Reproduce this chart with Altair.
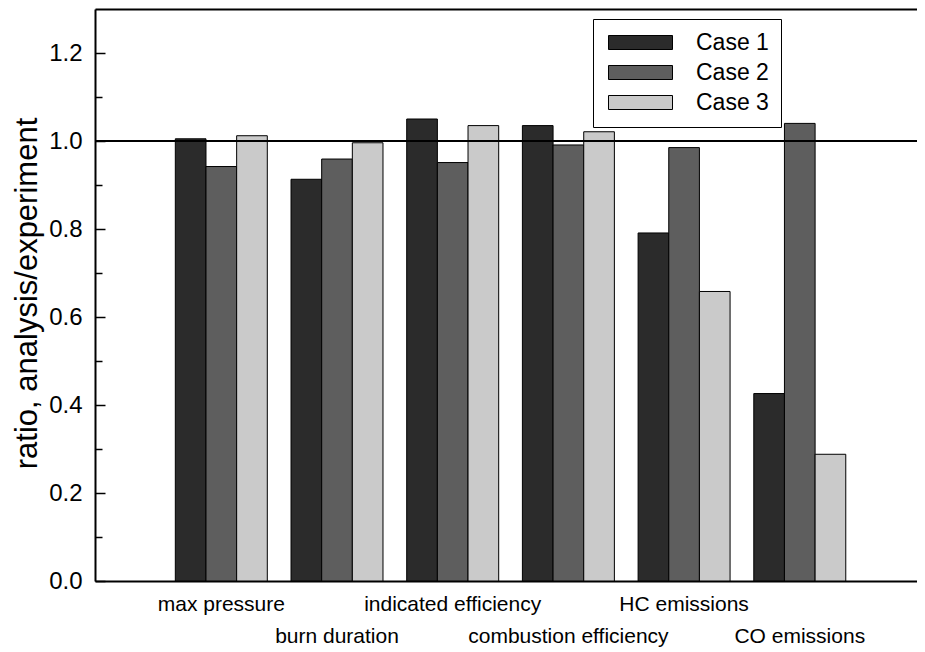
import json
import altair as alt
import pandas as pd

# ---- data ----
categories = ["max pressure", "burn duration", "indicated efficiency",
              "combustion efficiency", "HC emissions", "CO emissions"]
cases = ["Case 1", "Case 2", "Case 3"]
case1 = [1.005, 0.913, 1.050, 1.035, 0.791, 0.426]
case2 = [0.942, 0.959, 0.951, 0.991, 0.985, 1.040]
case3 = [1.012, 0.996, 1.035, 1.021, 0.658, 0.288]
major_ticks = [0.0, 0.2, 0.4, 0.6, 0.8, 1.0, 1.2]
minor_ticks = [0.0, 0.1, 0.2, 0.3, 0.4, 0.5, 0.6, 0.7, 0.8, 0.9, 1.0, 1.1, 1.2]
reference_value = [1.0]
colors = ["#2b2b2b", "#5e5e5e", "#cacaca"]

rows = []
for cat, a, b, c in zip(categories, case1, case2, case3):
    for case, v in zip(cases, (a, b, c)):
        rows.append({"category": cat, "case": case, "value": v})
df = pd.DataFrame(rows)
ref_df = pd.DataFrame({"value": reference_value})

FONT = "Liberation Sans"
W, H = 822, 572
ydom = [0, 1.3]
YTITLE = "ratio, analysis/experiment"

second_row = json.dumps(categories[1::2])
row_test = f"indexof({second_row}, datum.value) >= 0"
xscale = alt.Scale(paddingInner=0.205, paddingOuter=0.655, align=0.53)

x_enc = alt.X(
    "category:N", sort=categories, title=None, scale=xscale,
    axis=alt.Axis(
        orient="bottom",
        labelAngle=0, labelAlign="center", labelBaseline="alphabetic",
        labelFontSize=21, labelFont=FONT, labelColor="black", labelLimit=0,
        labelPadding={"condition": {"test": row_test, "value": 61}, "value": 29},
        labelOverlap=False, labelBound=False, labelFlush=False,
        ticks=False, tickSize=0, domainColor="black", domainWidth=2,
    ),
)

bars = alt.Chart(df).mark_bar(stroke="black", strokeWidth=1).encode(
    x=x_enc,
    xOffset=alt.XOffset("case:N", sort=cases,
                        scale=alt.Scale(paddingInner=0, paddingOuter=0)),
    y=alt.Y(
        "value:Q", title=YTITLE,
        scale=alt.Scale(domain=ydom, nice=False, zero=True),
        axis=alt.Axis(
            orient="left", values=major_ticks, format=".1f",
            ticks=False, tickSize=0, labelPadding=13,
            labelFontSize=24, labelFont=FONT, labelColor="black",
            titleFontSize=31, titleFont=FONT, titleFontWeight="normal",
            titleColor="black", titleX=-59, titleY=H / 2 - 2, titleAngle=-90,
            titleAlign="center", titleBaseline="alphabetic",
            domainColor="black", domainWidth=2, grid=False,
        ),
    ),
    color=alt.Color(
        "case:N", sort=cases,
        scale=alt.Scale(domain=cases, range=colors),
        legend=alt.Legend(
            title=None, orient="none", legendX=498, legendY=10,
            direction="vertical",
            symbolType="M-1,-0.875L7,-0.875L7,0.875L-1,0.875Z",
            symbolSize=256, symbolStrokeColor="black", symbolStrokeWidth=1,
            symbolOpacity=1,
            labelFontSize=23, labelFont=FONT, labelColor="black",
            labelOffset=68, rowPadding=6, padding=12,
            strokeColor="black", fillColor="white",
        ),
    ),
)

ref_line = alt.Chart(ref_df).mark_rule(color="black", strokeWidth=2).encode(
    y=alt.Y("value:Q", title=YTITLE, scale=alt.Scale(domain=ydom, nice=False))
)

# invisible layer that carries the inward minor/major ticks and the top frame
tick_layer = alt.Chart(df).mark_rule(opacity=0).encode(
    x=alt.X("category:N", sort=categories, title=None, scale=xscale,
            axis=alt.Axis(orient="top", labels=False, ticks=False,
                          domainColor="black", domainWidth=2)),
    y=alt.Y(
        "value:Q", title=None,
        scale=alt.Scale(domain=ydom, nice=False),
        axis=alt.Axis(
            orient="right", offset=-W, values=minor_ticks, labels=False,
            title=None, domain=False, ticks=True, grid=False,
            tickColor="black", tickWidth=1.5,
            tickSize={"condition": {"test": "round(datum.value * 10) % 2 === 0",
                                    "value": 10}, "value": 7},
        ),
    ),
)

chart = (
    alt.layer(alt.layer(bars, ref_line), tick_layer)
    .resolve_scale(y="independent")
    .resolve_axis(x="independent")
    .properties(
        width=W, height=H,
        padding={"left": 87, "top": 1, "right": 0, "bottom": 67},
        autosize=alt.AutoSizeParams(type="none"),
    )
    .configure_view(stroke="transparent")
    .configure_legend(strokeWidth=1.5)
    .configure(font=FONT)
)

chart.save("out.html", embed_options={"renderer": "svg", "actions": False})
